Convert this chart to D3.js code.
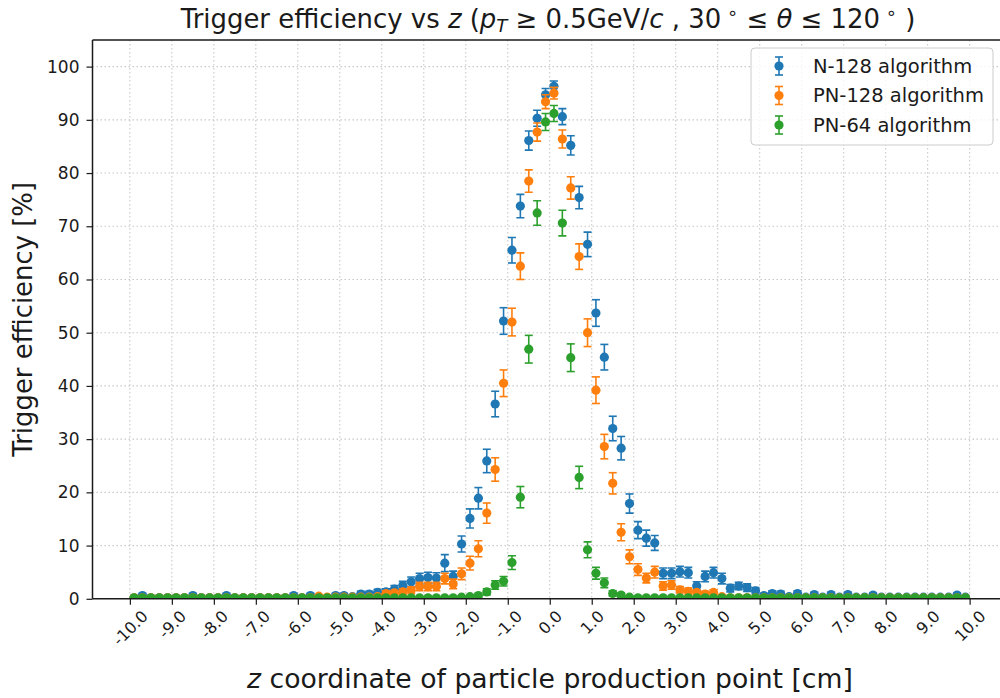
<!DOCTYPE html>
<html>
<head>
<meta charset="utf-8">
<script src="https://cdn.jsdelivr.net/npm/d3@7"></script>
<style>
  html, body { margin: 0; padding: 0; background: #fff; overflow: hidden; }
  svg { display: block; font-family: "DejaVu Sans", sans-serif; }
</style>
</head>
<body>
<svg id="chart" width="1000" height="698"></svg>
<script>
// ---- data ----
const zCenters = [
  -9.9,-9.7,-9.5,-9.3,-9.1,-8.9,-8.7,-8.5,-8.3,-8.1,
  -7.9,-7.7,-7.5,-7.3,-7.1,-6.9,-6.7,-6.5,-6.3,-6.1,
  -5.9,-5.7,-5.5,-5.3,-5.1,-4.9,-4.7,-4.5,-4.3,-4.1,
  -3.9,-3.7,-3.5,-3.3,-3.1,-2.9,-2.7,-2.5,-2.3,-2.1,
  -1.9,-1.7,-1.5,-1.3,-1.1,-0.9,-0.7,-0.5,-0.3,-0.1,
  0.1,0.3,0.5,0.7,0.9,1.1,1.3,1.5,1.7,1.9,
  2.1,2.3,2.5,2.7,2.9,3.1,3.3,3.5,3.7,3.9,
  4.1,4.3,4.5,4.7,4.9,5.1,5.3,5.5,5.7,5.9,
  6.1,6.3,6.5,6.7,6.9,7.1,7.3,7.5,7.7,7.9,
  8.1,8.3,8.5,8.7,8.9,9.1,9.3,9.5,9.7,9.9
];

const n128 = [
  0.2,0.6,0.2,0.2,0.2,0.2,0.2,0.6,0.2,0.2,
  0.2,0.6,0.2,0.2,0.2,0.2,0.2,0.2,0.2,0.6,
  0.2,0.6,0.2,0.2,0.6,0.6,0.4,0.9,0.9,1.2,
  1.3,1.8,2.5,3.2,3.8,4.0,3.9,6.7,4.2,10.3,
  15.1,18.9,25.9,36.6,52.2,65.5,73.8,86.1,90.3,94.7,
  96.3,90.6,85.2,75.4,66.6,53.7,45.4,32.0,28.3,17.9,
  12.9,11.4,10.5,4.8,4.8,5.1,4.9,2.4,4.2,4.9,
  3.8,2.0,2.4,2.1,1.5,0.6,1.0,0.9,0.4,1.0,
  0.3,0.8,0.3,0.8,0.3,0.8,0.3,0.3,0.7,0.3,
  0.3,0.3,0.3,0.3,0.3,0.3,0.3,0.3,0.7,0.3
];
const n128Err = [
  0.2,0.4,0.2,0.2,0.2,0.2,0.2,0.4,0.2,0.2,
  0.2,0.4,0.2,0.2,0.2,0.2,0.2,0.2,0.2,0.4,
  0.2,0.4,0.2,0.2,0.4,0.4,0.3,0.5,0.5,0.6,
  0.6,0.7,0.8,0.9,1.0,1.0,1.0,1.6,1.0,1.5,
  1.8,2.0,2.2,2.4,2.5,2.4,2.2,1.8,1.5,1.2,
  1.0,1.5,1.8,2.1,2.3,2.5,2.4,2.3,2.2,1.8,
  1.6,1.5,1.4,1.0,1.0,1.0,1.0,0.8,1.0,1.0,
  1.0,0.7,0.7,0.7,0.6,0.4,0.5,0.5,0.3,0.5,
  0.2,0.4,0.2,0.4,0.2,0.4,0.2,0.2,0.4,0.2,
  0.2,0.2,0.2,0.2,0.2,0.2,0.2,0.2,0.4,0.2
];

const pn128 = [
  0.2,0.2,0.2,0.2,0.2,0.2,0.2,0.2,0.2,0.2,
  0.2,0.2,0.2,0.2,0.2,0.2,0.2,0.2,0.2,0.2,
  0.2,0.2,0.5,0.3,0.3,0.3,0.3,0.3,0.3,0.4,
  1.0,1.1,1.3,1.6,2.3,2.3,2.3,3.8,2.8,4.7,
  6.7,9.4,16.1,24.3,40.5,52.0,62.5,78.5,87.7,93.4,
  95.0,86.4,77.2,64.3,50.0,39.2,28.6,21.7,12.5,7.9,
  5.5,3.9,5.0,2.4,2.6,1.7,1.4,1.2,0.9,1.2,
  0.4,0.2,0.2,0.2,0.2,0.2,0.2,0.2,0.2,0.2,
  0.2,0.2,0.2,0.2,0.2,0.2,0.2,0.2,0.2,0.2,
  0.2,0.2,0.2,0.2,0.2,0.2,0.2,0.2,0.2,0.2
];
const pn128Err = [
  0.2,0.2,0.2,0.2,0.2,0.2,0.2,0.2,0.2,0.2,
  0.2,0.2,0.2,0.2,0.2,0.2,0.2,0.2,0.2,0.2,
  0.2,0.2,0.3,0.2,0.2,0.2,0.2,0.2,0.2,0.3,
  0.5,0.5,0.6,0.6,0.8,0.8,0.8,1.0,0.9,1.1,
  1.3,1.5,1.9,2.2,2.5,2.6,2.5,2.1,1.7,1.3,
  1.1,1.7,2.1,2.4,2.6,2.5,2.3,2.0,1.6,1.3,
  1.1,0.9,1.1,0.8,0.8,0.6,0.6,0.5,0.5,0.5,
  0.3,0.2,0.2,0.2,0.2,0.2,0.2,0.2,0.2,0.2,
  0.2,0.2,0.2,0.2,0.2,0.2,0.2,0.2,0.2,0.2,
  0.2,0.2,0.2,0.2,0.2,0.2,0.2,0.2,0.2,0.2
];

const pn64 = [
  0.2,0.2,0.2,0.2,0.2,0.2,0.2,0.2,0.2,0.2,
  0.2,0.2,0.2,0.2,0.2,0.2,0.2,0.2,0.2,0.2,
  0.2,0.2,0.2,0.2,0.2,0.2,0.2,0.2,0.2,0.2,
  0.2,0.2,0.2,0.2,0.2,0.2,0.2,0.2,0.2,0.3,
  0.4,0.6,1.3,2.6,3.3,6.8,19.1,46.9,72.5,89.6,
  91.2,70.6,45.3,22.8,9.2,4.8,3.0,1.0,0.7,0.3,
  0.2,0.2,0.2,0.2,0.2,0.2,0.2,0.2,0.2,0.2,
  0.2,0.2,0.2,0.2,0.2,0.2,0.2,0.2,0.2,0.2,
  0.2,0.2,0.2,0.2,0.2,0.2,0.2,0.2,0.2,0.2,
  0.2,0.2,0.2,0.2,0.2,0.2,0.2,0.2,0.2,0.2
];
const pn64Err = [
  0.2,0.2,0.2,0.2,0.2,0.2,0.2,0.2,0.2,0.2,
  0.2,0.2,0.2,0.2,0.2,0.2,0.2,0.2,0.2,0.2,
  0.2,0.2,0.2,0.2,0.2,0.2,0.2,0.2,0.2,0.2,
  0.2,0.2,0.2,0.2,0.2,0.2,0.2,0.2,0.2,0.2,
  0.3,0.4,0.6,0.8,0.9,1.3,2.0,2.6,2.3,1.6,
  1.5,2.4,2.6,2.1,1.5,1.1,0.9,0.5,0.4,0.2,
  0.2,0.2,0.2,0.2,0.2,0.2,0.2,0.2,0.2,0.2,
  0.2,0.2,0.2,0.2,0.2,0.2,0.2,0.2,0.2,0.2,
  0.2,0.2,0.2,0.2,0.2,0.2,0.2,0.2,0.2,0.2,
  0.2,0.2,0.2,0.2,0.2,0.2,0.2,0.2,0.2,0.2
];

const seriesNames = ["N-128 algorithm", "PN-128 algorithm", "PN-64 algorithm"];
const seriesColors = ["#1f77b4", "#ff7f0e", "#2ca02c"];
const xTickValues = [-10,-9,-8,-7,-6,-5,-4,-3,-2,-1,0,1,2,3,4,5,6,7,8,9,10];
const yTickValues = [0,10,20,30,40,50,60,70,80,90,100];

const series = [
  { name: seriesNames[0], color: seriesColors[0], values: n128, errors: n128Err },
  { name: seriesNames[1], color: seriesColors[1], values: pn128, errors: pn128Err },
  { name: seriesNames[2], color: seriesColors[2], values: pn64, errors: pn64Err }
];

// ---- layout ----
const svg = d3.select("#chart");
const plot = { left: 92.5, right: 1007, top: 40, bottom: 598.8 };
const x = d3.scaleLinear().domain([-10.89, 10.89]).range([plot.left, plot.right]);
const y = d3.scaleLinear().domain([0, 105]).range([plot.bottom, plot.top]);
const textColor = "#1a1a1a";

svg.append("clipPath").attr("id", "clip")
  .append("rect").attr("x", plot.left).attr("y", plot.top)
  .attr("width", plot.right - plot.left).attr("height", plot.bottom - plot.top);

// grid
const grid = svg.append("g");
grid.selectAll("line.vx").data(xTickValues).enter().append("line")
  .attr("x1", d => x(d)).attr("x2", d => x(d))
  .attr("y1", plot.top).attr("y2", plot.bottom)
  .attr("stroke", "#c8c8c8").attr("stroke-width", 1.1).attr("stroke-dasharray", "1.5,2.5");
grid.selectAll("line.hy").data(yTickValues).enter().append("line")
  .attr("y1", d => y(d)).attr("y2", d => y(d))
  .attr("x1", plot.left).attr("x2", plot.right)
  .attr("stroke", "#c8c8c8").attr("stroke-width", 1.1).attr("stroke-dasharray", "1.5,2.5");

// data
const dataG = svg.append("g").attr("clip-path", "url(#clip)");
series.forEach(s => {
  const g = dataG.append("g");
  const pts = zCenters.map((z, i) => ({ z, v: s.values[i], e: s.errors[i] }));
  const cap = 4;
  g.selectAll("line.eb").data(pts).enter().append("line")
    .attr("x1", d => x(d.z)).attr("x2", d => x(d.z))
    .attr("y1", d => y(d.v - d.e)).attr("y2", d => y(d.v + d.e))
    .attr("stroke", s.color).attr("stroke-width", 1.6);
  g.selectAll("line.capt").data(pts).enter().append("line")
    .attr("x1", d => x(d.z) - cap).attr("x2", d => x(d.z) + cap)
    .attr("y1", d => y(d.v + d.e)).attr("y2", d => y(d.v + d.e))
    .attr("stroke", s.color).attr("stroke-width", 1.6);
  g.selectAll("line.capb").data(pts).enter().append("line")
    .attr("x1", d => x(d.z) - cap).attr("x2", d => x(d.z) + cap)
    .attr("y1", d => y(d.v - d.e)).attr("y2", d => y(d.v - d.e))
    .attr("stroke", s.color).attr("stroke-width", 1.6);
  g.selectAll("circle").data(pts).enter().append("circle")
    .attr("cx", d => x(d.z)).attr("cy", d => y(d.v)).attr("r", 4.6)
    .attr("fill", s.color);
});

// axes
const xAxis = d3.axisBottom(x).tickValues(xTickValues).tickSize(6).tickPadding(4)
  .tickFormat(d => d.toFixed(1));
const xg = svg.append("g").attr("transform", `translate(0,${plot.bottom})`).call(xAxis);
xg.select(".domain").remove();
xg.selectAll(".tick line").attr("stroke", textColor).attr("stroke-width", 1.2);
xg.selectAll(".tick text").each(function(d) {
  const t = d3.select(this);
  t.attr("fill", textColor).attr("font-size", 16).attr("font-family", "DejaVu Sans")
   .attr("text-anchor", "middle").attr("dy", null).attr("y", null)
   .attr("dominant-baseline", "central");
  const w = this.getComputedTextLength();
  const h = 16 * 1.0;
  const bh = (w + h) * Math.SQRT1_2;
  const cy = 9 + bh / 2;
  t.attr("transform", `translate(0,${cy}) rotate(-45)`);
});

const yAxis = d3.axisLeft(y).tickValues(yTickValues).tickSize(6).tickPadding(7);
const yg = svg.append("g").attr("transform", `translate(${plot.left},0)`).call(yAxis);
yg.select(".domain").remove();
yg.selectAll(".tick line").attr("stroke", textColor).attr("stroke-width", 1.2);
yg.selectAll(".tick text").attr("fill", textColor).attr("font-size", 17)
  .attr("font-family", "DejaVu Sans");

// spines
svg.append("line").attr("x1", plot.left).attr("x2", plot.right)
  .attr("y1", plot.bottom).attr("y2", plot.bottom).attr("stroke", textColor).attr("stroke-width", 1.5);
svg.append("line").attr("x1", plot.left).attr("x2", plot.right)
  .attr("y1", plot.top).attr("y2", plot.top).attr("stroke", textColor).attr("stroke-width", 1.5);
svg.append("line").attr("x1", plot.left).attr("x2", plot.left)
  .attr("y1", plot.top).attr("y2", plot.bottom).attr("stroke", textColor).attr("stroke-width", 1.5);
svg.append("line").attr("x1", plot.right).attr("x2", plot.right)
  .attr("y1", plot.top).attr("y2", plot.bottom).attr("stroke", textColor).attr("stroke-width", 1.5);

// fit helper: scale font size so text spans target width
function fitFont(sel, target, base) {
  const w = sel.node().getComputedTextLength();
  sel.attr("font-size", base * target / w);
}

// title
const title = svg.append("text").attr("x", 548).attr("y", 28)
  .attr("text-anchor", "middle").attr("fill", textColor).attr("font-size", 24);
title.append("tspan").text("Trigger efficiency vs ");
title.append("tspan").attr("font-style", "italic").text("z");
title.append("tspan").text(" (");
title.append("tspan").attr("font-style", "italic").text("p");
title.append("tspan").attr("font-style", "italic").attr("font-size", "70%").attr("dy", 4).text("T");
title.append("tspan").attr("dy", -4).text(" \u2265 0.5GeV/");
title.append("tspan").attr("font-style", "italic").text("c");
title.append("tspan").text(" , 30");
title.append("tspan").attr("font-size", "70%").attr("dy", -9).text(" \u2218");
title.append("tspan").attr("dy", 9).text(" \u2264 ");
title.append("tspan").attr("font-style", "italic").text("\u03b8");
title.append("tspan").text(" \u2264 120");
title.append("tspan").attr("font-size", "70%").attr("dy", -9).text(" \u2218");
title.append("tspan").attr("dy", 9).text(" )");
fitFont(title, 735, 24);

// x label
const xl = svg.append("text").attr("x", 550).attr("y", 688)
  .attr("text-anchor", "middle").attr("fill", textColor).attr("font-size", 24);
xl.append("tspan").attr("font-style", "italic").text("z");
xl.append("tspan").text(" coordinate of particle production point [cm]");
fitFont(xl, 606, 24);

// y label
const yl = svg.append("text")
  .attr("transform", `translate(32,${(plot.top + plot.bottom) / 2}) rotate(-90)`)
  .attr("text-anchor", "middle").attr("fill", textColor).attr("font-size", 24)
  .text("Trigger efficiency [%]");
fitFont(yl, 275, 24);

// legend
const lg = svg.append("g");
lg.append("rect").attr("x", 751).attr("y", 48).attr("width", 242).attr("height", 97)
  .attr("rx", 4).attr("fill", "#fff").attr("fill-opacity", 0.8)
  .attr("stroke", "#cccccc").attr("stroke-width", 1);
series.forEach((s, i) => {
  const cy = 66 + i * 29.5;
  const hx = 779;
  const row = lg.append("g");
  row.append("line").attr("x1", hx).attr("x2", hx).attr("y1", cy - 9).attr("y2", cy + 9)
    .attr("stroke", s.color).attr("stroke-width", 1.6);
  row.append("line").attr("x1", hx - 4).attr("x2", hx + 4).attr("y1", cy - 9).attr("y2", cy - 9)
    .attr("stroke", s.color).attr("stroke-width", 1.6);
  row.append("line").attr("x1", hx - 4).attr("x2", hx + 4).attr("y1", cy + 9).attr("y2", cy + 9)
    .attr("stroke", s.color).attr("stroke-width", 1.6);
  row.append("circle").attr("cx", hx).attr("cy", cy).attr("r", 4.6).attr("fill", s.color);
  row.append("text").attr("x", 813).attr("y", cy).attr("dominant-baseline", "central")
    .attr("font-size", 19.5).attr("fill", textColor).text(s.name);
});
</script>
</body>
</html>
